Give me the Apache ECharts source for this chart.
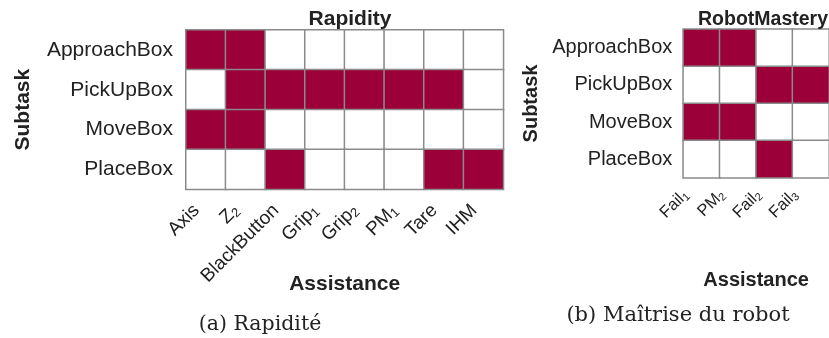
<!DOCTYPE html>
<html>
<head>
<meta charset="utf-8">
<script src="https://cdn.jsdelivr.net/npm/echarts@6/dist/echarts.min.js"></script>
<style>
  html, body { margin: 0; padding: 0; background: #fff; }
  #chart { width: 829px; height: 338px; }
</style>
</head>
<body>
<div id="chart"></div>
<script>
// Subtasks (rows, top to bottom)
const subtasks = ['ApproachBox', 'PickUpBox', 'MoveBox', 'PlaceBox'];

// Assistance columns; "_n" marks a subscript
const rapidityAssist = ['Axis', 'Z_2', 'BlackButton', 'Grip_1', 'Grip_2', 'PM_1', 'Tare', 'IHM'];
const masteryAssist = ['Fail_1', 'PM_2', 'Fail_2', 'Fail_3'];

// 1 = assistance used for this subtask, 0 = not used (one row per subtask)
const rapidityGrid = [
  [1, 1, 0, 0, 0, 0, 0, 0],
  [0, 1, 1, 1, 1, 1, 1, 0],
  [1, 1, 0, 0, 0, 0, 0, 0],
  [0, 0, 1, 0, 0, 0, 1, 1]
];
const masteryGrid = [
  [1, 1, 0, 0],
  [0, 0, 1, 1],
  [1, 1, 0, 0],
  [0, 0, 1, 0]
];

const ON = '#9b0039';
const EDGE = '#8a8a8a';
const INK = '#222';
const SANS = 'Liberation Sans';

function toCells(grid) {
  const out = [];
  grid.forEach((row, r) => row.forEach((v, c) => out.push([c, r, v])));
  return out;
}

function subLabel(v) {
  const parts = v.split('_');
  return parts.length > 1 ? '{n|' + parts[0] + '}{s|' + parts[1] + '}' : '{n|' + v + '}';
}

// Rotated tick labels with subscript support; right padding slides the text
// down-left along its baseline, bottom padding lifts it across the baseline.
function xLabel(size, sub, margin, shift, lift) {
  return {
    rotate: 45, margin: margin, interval: 0, color: INK,
    fontSize: size, fontFamily: SANS,
    formatter: subLabel,
    padding: [0, shift, lift, 0],
    rich: {
      n: { fontSize: size, fontFamily: SANS, color: INK, lineHeight: size + 2 },
      s: { fontSize: sub, fontFamily: SANS, color: INK, lineHeight: sub,
           padding: [Math.round(size * 0.55), 0, 0, 0], verticalAlign: 'bottom' }
    }
  };
}

const chart = echarts.init(document.getElementById('chart'), null, { renderer: 'canvas' });

chart.setOption({
  backgroundColor: '#fff',
  animation: false,
  textStyle: { fontFamily: SANS },
  title: [
    { text: 'Rapidity', left: 345, top: 4, textAlign: 'center',
      textStyle: { fontSize: 21, fontWeight: 'bold', color: INK } },
    { text: 'RobotMastery', left: 758, top: 5, textAlign: 'center',
      textStyle: { fontSize: 19.5, fontWeight: 'bold', color: INK } },
    { text: '(a) Rapidité', left: 255, top: 309, textAlign: 'center',
      textStyle: { fontSize: 20.5, fontWeight: 'normal', color: INK, fontFamily: 'DejaVu Serif' } },
    { text: '(b) Maîtrise du robot', left: 673, top: 300, textAlign: 'center',
      textStyle: { fontSize: 21, fontWeight: 'normal', color: INK, fontFamily: 'DejaVu Serif' } }
  ],
  grid: [
    { left: 186, top: 30, width: 317.3, height: 159.3 },
    { left: 683.3, top: 29.3, width: 149.4, height: 148.4 }
  ],
  xAxis: [
    {
      type: 'category', gridIndex: 0, data: rapidityAssist,
      axisLine: { show: false }, axisTick: { show: false }, splitLine: { show: false },
      axisLabel: xLabel(19, 13, 9, 13, 0),
      name: 'Assistance', nameLocation: 'middle', nameGap: 84, nameMoveOverlap: false,
      nameTextStyle: { fontSize: 21, fontWeight: 'bold', color: INK }
    },
    {
      type: 'category', gridIndex: 1, data: masteryAssist,
      axisLine: { show: false }, axisTick: { show: false }, splitLine: { show: false },
      axisLabel: xLabel(16.5, 11, 16, 10, 24),
      name: 'Assistance', nameLocation: 'middle', nameGap: 93, nameMoveOverlap: false,
      nameTextStyle: { fontSize: 20, fontWeight: 'bold', color: INK }
    }
  ],
  yAxis: [
    {
      type: 'category', gridIndex: 0, data: subtasks, inverse: true,
      axisLine: { show: false }, axisTick: { show: false }, splitLine: { show: false },
      axisLabel: { fontSize: 21, color: INK, margin: 13, fontFamily: SANS },
      name: 'Subtask', nameLocation: 'middle', nameGap: 152, nameMoveOverlap: false,
      nameTextStyle: { fontSize: 21, fontWeight: 'bold', color: INK }
    },
    {
      type: 'category', gridIndex: 1, data: subtasks, inverse: true,
      axisLine: { show: false }, axisTick: { show: false }, splitLine: { show: false },
      axisLabel: { fontSize: 20, color: INK, margin: 11, fontFamily: SANS },
      name: 'Subtask', nameLocation: 'middle', nameGap: 142, nameMoveOverlap: false,
      nameTextStyle: { fontSize: 20, fontWeight: 'bold', color: INK }
    }
  ],
  visualMap: {
    type: 'piecewise', show: false, seriesIndex: [0, 1], dimension: 2,
    pieces: [
      { value: 0, color: '#ffffff' },
      { value: 1, color: ON }
    ]
  },
  series: [
    {
      type: 'heatmap', xAxisIndex: 0, yAxisIndex: 0,
      data: toCells(rapidityGrid),
      itemStyle: { borderColor: EDGE, borderWidth: 1.5 },
      emphasis: { disabled: true }
    },
    {
      type: 'heatmap', xAxisIndex: 1, yAxisIndex: 1,
      data: toCells(masteryGrid),
      itemStyle: { borderColor: EDGE, borderWidth: 1.5 },
      emphasis: { disabled: true }
    }
  ]
});
</script>
</body>
</html>
